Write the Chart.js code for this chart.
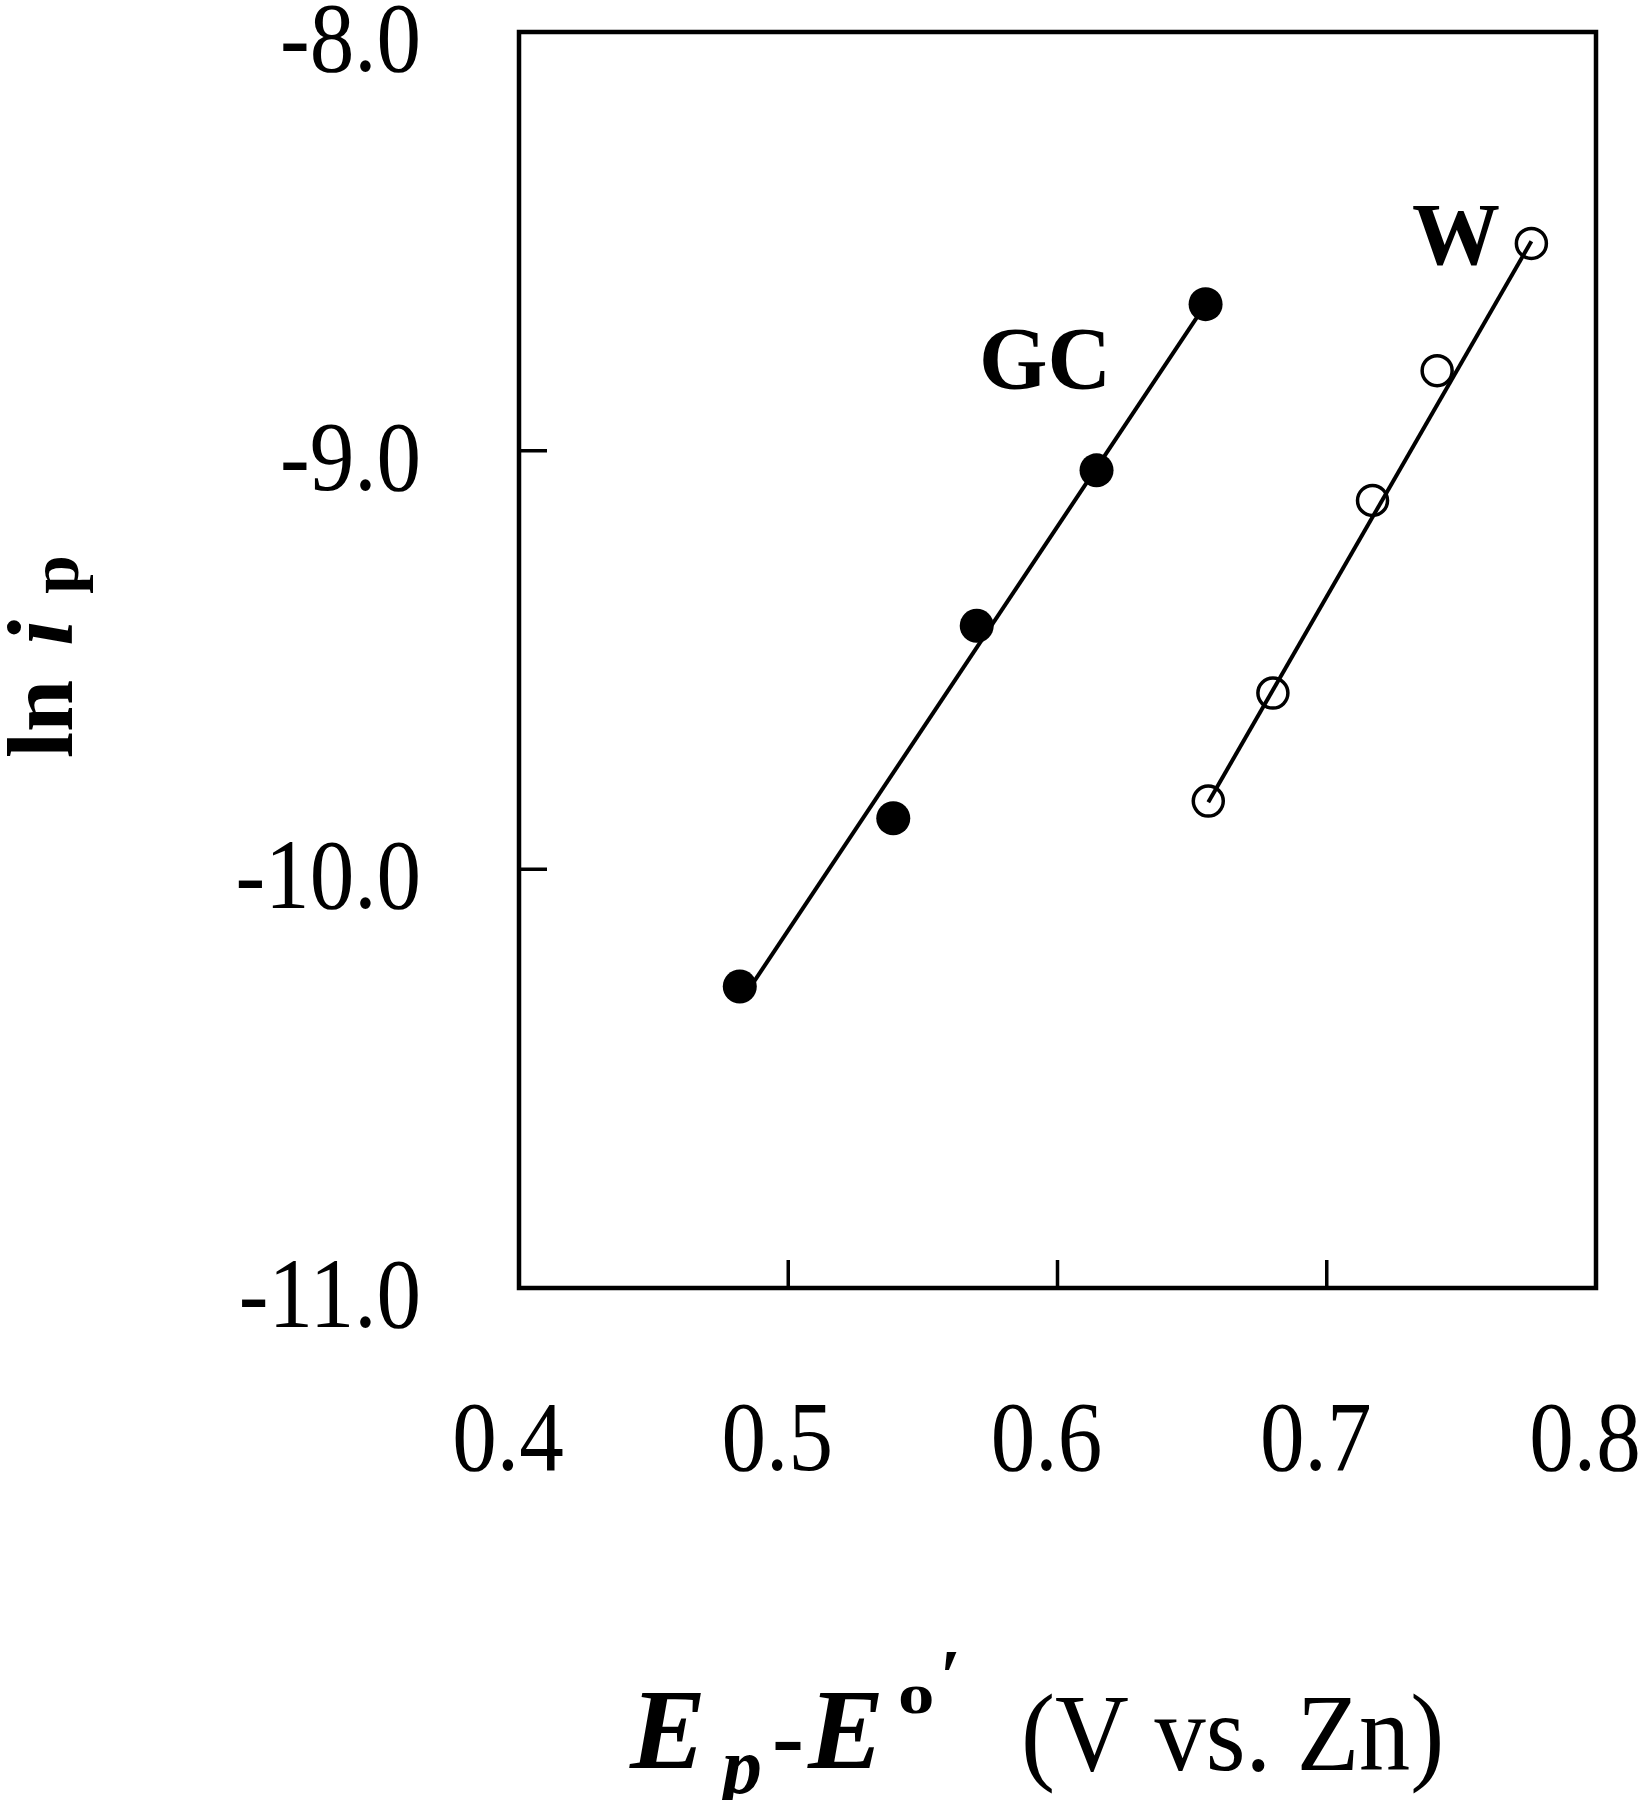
<!DOCTYPE html>
<html>
<head>
<meta charset="utf-8">
<script src="https://cdn.jsdelivr.net/npm/chart.js@4/dist/chart.umd.min.js"></script>
<style>
  html, body { margin: 0; padding: 0; background: #fff; }
</style>
</head>
<body>
<canvas id="tafelChart" width="1641" height="1800"></canvas>
<script>
const gcPotential = [0.482, 0.539, 0.570, 0.6145, 0.655];
const gcLnCurrent = [-10.28, -9.878, -9.418, -9.047, -8.650];
const wPotential = [0.656, 0.680, 0.717, 0.741, 0.776];
const wLnCurrent = [-9.837, -9.579, -9.119, -8.809, -8.505];

// fitted straight lines (end points as drawn)
const gcFitPotential = [0.484, 0.654];
const gcFitLnCurrent = [-10.30, -8.66];
const wFitPotential = [0.656, 0.776];
const wFitLnCurrent = [-9.84, -8.50];

const xTicks = [0.4, 0.5, 0.6, 0.7, 0.8];
const yTicks = [-11.0, -10.0, -9.0, -8.0];
const seriesNames = ["GC", "W"];

const SERIF = "'Liberation Serif', 'Times New Roman', serif";
const pairs = (xs, ys) => xs.map((x, i) => ({ x: x, y: ys[i] }));

// text squeezed a little sideways, like the scanned figure
function squeezed(ctx, text, x, y, sx, align) {
  ctx.save();
  ctx.translate(x, y);
  ctx.scale(sx, 1);
  ctx.textAlign = align;
  ctx.fillText(text, 0, 0);
  ctx.restore();
}

function drawRuns(ctx, runs) {
  runs.forEach(r => {
    ctx.font = r.font;
    squeezed(ctx, r.text, r.x, r.y, r.sx || 1, "left");
  });
}

const framePlugin = {
  id: "frame",
  afterDraw(chart) {
    const { ctx, chartArea: a, scales } = chart;
    const x = scales.x, y = scales.y;
    ctx.save();
    ctx.strokeStyle = "#000";
    ctx.fillStyle = "#000";
    ctx.lineWidth = 4.5;
    ctx.strokeRect(a.left, a.top, a.right - a.left, a.bottom - a.top);

    // inward tick marks
    ctx.lineWidth = 3.5;
    ctx.beginPath();
    x.ticks.forEach(t => {
      if (t.value <= x.min || t.value >= x.max) return;
      const px = x.getPixelForValue(t.value);
      ctx.moveTo(px, a.bottom);
      ctx.lineTo(px, a.bottom - 28);
    });
    y.ticks.forEach(t => {
      if (t.value <= y.min || t.value >= y.max) return;
      const py = y.getPixelForValue(t.value);
      ctx.moveTo(a.left, py);
      ctx.lineTo(a.left + 28, py);
    });
    ctx.stroke();

    // tick labels
    ctx.font = "99px " + SERIF;
    ctx.textBaseline = "alphabetic";
    x.ticks.forEach(t => {
      squeezed(ctx, t.value.toFixed(1), x.getPixelForValue(t.value) - 11, 1470, 0.9, "center");
    });
    y.ticks.forEach(t => {
      squeezed(ctx, t.value.toFixed(1), 421, y.getPixelForValue(t.value) + 39, 0.9, "right");
    });

    // series labels
    ctx.font = "bold 88px " + SERIF;
    ctx.textAlign = "center";
    ctx.textBaseline = "middle";
    const spots = [[0.5954, -8.795], [0.748, -8.499]];
    seriesNames.forEach((name, i) => {
      ctx.fillText(name, x.getPixelForValue(spots[i][0]), y.getPixelForValue(spots[i][1]));
    });

    // x axis title: Ep - E°' (V vs. Zn)
    ctx.textAlign = "left";
    ctx.textBaseline = "alphabetic";
    const base = 1768;
    drawRuns(ctx, [
      { text: "E", font: "italic bold 114px " + SERIF, x: 630, y: base },
      { text: "p", font: "italic bold 80px " + SERIF, x: 722, y: base + 25 },
      { text: "-", font: "bold 96px " + SERIF, x: 772, y: base },
      { text: "E", font: "italic bold 114px " + SERIF, x: 808, y: base },
      { text: "o", font: "bold 56px " + SERIF, x: 898, y: base - 55, sx: 1.3 },
      { text: "\u2032", font: "bold 76px " + SERIF, x: 940, y: base - 66 },
      { text: "(V vs. Zn)", font: "110px " + SERIF, x: 1021, y: base + 2, sx: 0.93 }
    ]);

    // y axis title: ln i_p (rotated)
    ctx.translate(72, 758);
    ctx.rotate(-Math.PI / 2);
    drawRuns(ctx, [
      { text: "ln", font: "bold 94px " + SERIF, x: 0, y: 0 },
      { text: "i", font: "italic bold 94px " + SERIF, x: 112, y: 0 },
      { text: "p", font: "bold 70px " + SERIF, x: 164, y: 6 }
    ]);
    ctx.restore();
  }
};

new Chart(document.getElementById("tafelChart"), {
  type: "scatter",
  data: {
    datasets: [
      {
        label: "GC fit",
        data: pairs(gcFitPotential, gcFitLnCurrent),
        showLine: true,
        borderColor: "#000",
        borderWidth: 4,
        pointRadius: 0
      },
      {
        label: "W fit",
        data: pairs(wFitPotential, wFitLnCurrent),
        showLine: true,
        borderColor: "#000",
        borderWidth: 4,
        pointRadius: 0
      },
      {
        label: seriesNames[0],
        data: pairs(gcPotential, gcLnCurrent),
        backgroundColor: "#000",
        borderColor: "#000",
        pointRadius: 17,
        pointBorderWidth: 0
      },
      {
        label: seriesNames[1],
        data: pairs(wPotential, wLnCurrent),
        backgroundColor: "#fff",
        borderColor: "#000",
        pointRadius: 15,
        pointBorderWidth: 3.5
      }
    ]
  },
  options: {
    responsive: false,
    animation: false,
    layout: { padding: { top: 32, right: 45, left: 0, bottom: 0 } },
    plugins: {
      legend: { display: false },
      tooltip: { enabled: false }
    },
    scales: {
      x: {
        type: "linear",
        min: 0.4,
        max: 0.8,
        afterBuildTicks: s => { s.ticks = xTicks.map(v => ({ value: v })); },
        afterFit: s => { s.height = 512; s.paddingLeft = 0; s.paddingRight = 0; },
        grid: { display: false, drawTicks: false },
        border: { display: false },
        ticks: { display: false }
      },
      y: {
        type: "linear",
        min: -11,
        max: -8,
        afterBuildTicks: s => { s.ticks = yTicks.map(v => ({ value: v })); },
        afterFit: s => { s.width = 519; s.paddingTop = 0; s.paddingBottom = 0; },
        grid: { display: false, drawTicks: false },
        border: { display: false },
        ticks: { display: false }
      }
    }
  },
  plugins: [framePlugin]
});
</script>
</body>
</html>
